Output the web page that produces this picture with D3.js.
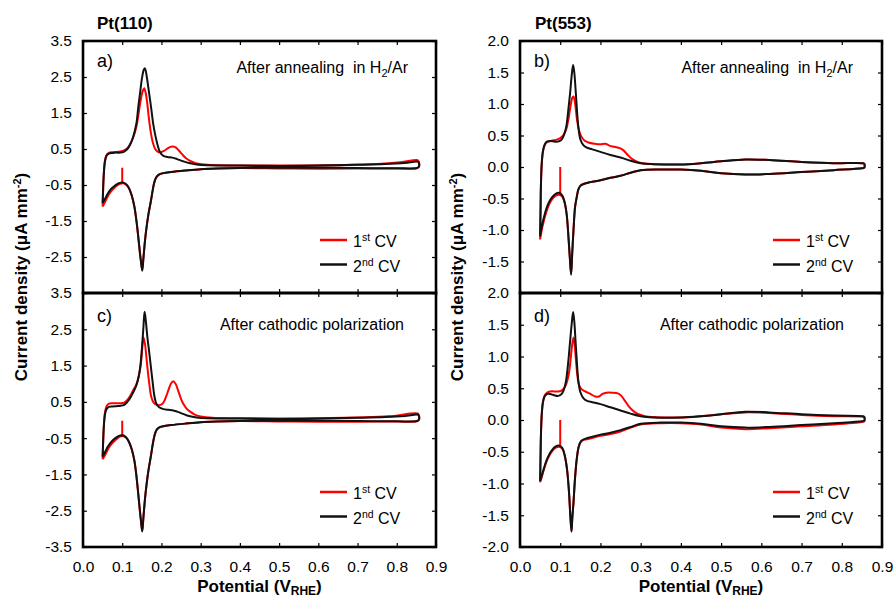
<!DOCTYPE html>
<html>
<head>
<meta charset="utf-8">
<script src="https://cdn.jsdelivr.net/npm/d3@7"></script>
<style>
  body { margin: 0; background: #fff; }
  text { font-family: "Liberation Sans", Arial, sans-serif; fill: #000; }
</style>
</head>
<body>
<div id="chart"></div>
<script>
// tick values
const xTicks = [0.0, 0.1, 0.2, 0.3, 0.4, 0.5, 0.6, 0.7, 0.8, 0.9]
const yTicks110 = [3.5, 2.5, 1.5, 0.5, -0.5, -1.5, -2.5, -3.5]
const yTicks553 = [2.0, 1.5, 1.0, 0.5, 0.0, -0.5, -1.0, -1.5, -2.0]

// ---- Pt(110) after annealing (a) ----
const a1Spike = [[0.100, -0.02], [0.100, -0.44]]
const a1Up = [[0.050,-1.10],[0.051,-0.75],[0.053,-0.20],[0.056,0.18],[0.060,0.33],[0.066,0.39],[0.075,0.41],[0.085,0.42],[0.095,0.43],[0.105,0.46],[0.113,0.52],[0.120,0.63],[0.128,0.82],[0.136,1.12],[0.142,1.50],[0.147,1.85],[0.152,2.10],[0.156,2.19],[0.160,2.05],[0.164,1.75],[0.168,1.35],[0.173,0.95],[0.178,0.68],[0.184,0.50],[0.190,0.43],[0.198,0.41],[0.207,0.45],[0.215,0.51],[0.223,0.56],[0.230,0.57],[0.237,0.54],[0.245,0.45],[0.253,0.35],[0.262,0.25],[0.275,0.16],[0.290,0.10],[0.310,0.07],[0.350,0.05],[0.450,0.04],[0.550,0.04],[0.650,0.05],[0.750,0.08],[0.810,0.13],[0.853,0.19]]
const a1Down = [[0.856,0.15],[0.856,0.00],[0.850,-0.04],[0.800,-0.04],[0.700,-0.045],[0.600,-0.05],[0.500,-0.04],[0.400,-0.03],[0.340,-0.04],[0.300,-0.06],[0.260,-0.10],[0.225,-0.14],[0.205,-0.17],[0.193,-0.22],[0.187,-0.29],[0.182,-0.42],[0.178,-0.63],[0.173,-0.95],[0.167,-1.30],[0.162,-1.68],[0.158,-2.05],[0.154,-2.52],[0.151,-2.86],[0.148,-2.63],[0.145,-2.36],[0.141,-1.95],[0.137,-1.56],[0.131,-1.10],[0.124,-0.79],[0.117,-0.59],[0.110,-0.49],[0.102,-0.45],[0.094,-0.47],[0.086,-0.52],[0.078,-0.60],[0.070,-0.70],[0.063,-0.82],[0.057,-0.95],[0.050,-1.10]]
const a2Up = [[0.050,-1.00],[0.051,-0.70],[0.053,-0.20],[0.056,0.15],[0.060,0.31],[0.066,0.37],[0.075,0.39],[0.085,0.40],[0.095,0.40],[0.105,0.43],[0.113,0.50],[0.120,0.62],[0.128,0.84],[0.136,1.20],[0.141,1.67],[0.146,2.10],[0.150,2.44],[0.155,2.70],[0.158,2.74],[0.162,2.55],[0.166,2.25],[0.169,2.02],[0.174,1.62],[0.179,1.20],[0.184,0.90],[0.190,0.62],[0.196,0.42],[0.205,0.31],[0.215,0.28],[0.228,0.26],[0.240,0.22],[0.255,0.16],[0.270,0.11],[0.290,0.07],[0.320,0.05],[0.400,0.04],[0.500,0.03],[0.600,0.04],[0.700,0.06],[0.770,0.08],[0.820,0.11],[0.853,0.15]]
const a2Down = [[0.856,0.12],[0.856,0.00],[0.850,-0.03],[0.800,-0.035],[0.700,-0.03],[0.600,-0.02],[0.500,-0.02],[0.400,-0.025],[0.340,-0.04],[0.300,-0.06],[0.260,-0.10],[0.225,-0.14],[0.205,-0.17],[0.193,-0.21],[0.187,-0.28],[0.182,-0.42],[0.178,-0.63],[0.173,-0.95],[0.167,-1.30],[0.162,-1.68],[0.158,-2.05],[0.154,-2.55],[0.151,-2.88],[0.148,-2.65],[0.145,-2.38],[0.141,-1.95],[0.137,-1.56],[0.131,-1.10],[0.124,-0.78],[0.117,-0.58],[0.110,-0.48],[0.102,-0.43],[0.094,-0.44],[0.086,-0.48],[0.078,-0.55],[0.070,-0.63],[0.063,-0.74],[0.057,-0.87],[0.050,-1.00]]

// ---- Pt(110) after cathodic polarization (c) ----
const c1Spike = [[0.100, -0.02], [0.100, -0.43]]
const c1Up = [[0.050,-1.08],[0.051,-0.75],[0.053,-0.20],[0.056,0.20],[0.060,0.38],[0.066,0.45],[0.075,0.46],[0.085,0.46],[0.095,0.46],[0.105,0.48],[0.113,0.55],[0.120,0.66],[0.128,0.82],[0.136,0.98],[0.142,1.20],[0.147,1.50],[0.151,1.95],[0.154,2.28],[0.158,2.10],[0.161,1.80],[0.164,1.47],[0.169,1.00],[0.174,0.64],[0.180,0.48],[0.188,0.42],[0.196,0.41],[0.205,0.48],[0.212,0.65],[0.218,0.83],[0.224,1.00],[0.230,1.07],[0.236,1.00],[0.242,0.83],[0.248,0.64],[0.255,0.46],[0.263,0.33],[0.273,0.23],[0.285,0.15],[0.300,0.10],[0.330,0.06],[0.400,0.05],[0.500,0.04],[0.600,0.05],[0.700,0.07],[0.780,0.10],[0.853,0.18]]
const c1Down = [[0.856,0.14],[0.856,0.00],[0.850,-0.04],[0.800,-0.04],[0.700,-0.045],[0.600,-0.05],[0.500,-0.04],[0.400,-0.03],[0.340,-0.04],[0.300,-0.06],[0.260,-0.10],[0.225,-0.14],[0.205,-0.17],[0.193,-0.22],[0.187,-0.29],[0.182,-0.44],[0.178,-0.66],[0.173,-1.00],[0.167,-1.38],[0.162,-1.78],[0.158,-2.18],[0.154,-2.68],[0.151,-3.05],[0.148,-2.80],[0.145,-2.50],[0.141,-2.05],[0.137,-1.62],[0.131,-1.12],[0.124,-0.80],[0.117,-0.60],[0.110,-0.49],[0.102,-0.44],[0.094,-0.46],[0.086,-0.52],[0.078,-0.60],[0.070,-0.70],[0.063,-0.82],[0.057,-0.95],[0.050,-1.08]]
const c2Up = [[0.050,-1.01],[0.051,-0.70],[0.053,-0.20],[0.056,0.15],[0.060,0.30],[0.066,0.36],[0.075,0.37],[0.085,0.38],[0.095,0.39],[0.105,0.42],[0.113,0.50],[0.120,0.60],[0.128,0.76],[0.136,0.95],[0.142,1.20],[0.146,1.47],[0.150,1.95],[0.154,2.55],[0.157,2.98],[0.160,2.75],[0.164,2.30],[0.169,1.85],[0.173,1.47],[0.178,1.00],[0.182,0.66],[0.187,0.45],[0.194,0.35],[0.205,0.30],[0.218,0.28],[0.228,0.27],[0.240,0.23],[0.255,0.17],[0.270,0.11],[0.290,0.07],[0.320,0.05],[0.400,0.04],[0.500,0.03],[0.600,0.04],[0.700,0.06],[0.770,0.08],[0.820,0.11],[0.853,0.15]]
const c2Down = [[0.856,0.12],[0.856,0.00],[0.850,-0.03],[0.800,-0.035],[0.700,-0.03],[0.600,-0.02],[0.500,-0.02],[0.400,-0.025],[0.340,-0.04],[0.300,-0.06],[0.260,-0.10],[0.225,-0.14],[0.205,-0.17],[0.193,-0.21],[0.187,-0.28],[0.182,-0.44],[0.178,-0.66],[0.173,-1.00],[0.167,-1.38],[0.162,-1.78],[0.158,-2.18],[0.154,-2.70],[0.151,-3.07],[0.148,-2.80],[0.145,-2.50],[0.141,-2.05],[0.137,-1.62],[0.131,-1.12],[0.124,-0.80],[0.117,-0.60],[0.110,-0.48],[0.102,-0.42],[0.094,-0.43],[0.086,-0.47],[0.078,-0.54],[0.070,-0.63],[0.063,-0.74],[0.057,-0.87],[0.050,-1.01]]

// ---- Pt(553) after annealing (b) ----
const b1Spike = [[0.100, 0.00], [0.100, -0.44]]
const b1Up = [[0.050,-1.15],[0.051,-0.75],[0.052,-0.30],[0.054,0.05],[0.057,0.24],[0.061,0.34],[0.066,0.39],[0.073,0.41],[0.081,0.42],[0.090,0.43],[0.098,0.45],[0.104,0.48],[0.109,0.52],[0.115,0.60],[0.121,0.78],[0.126,0.98],[0.130,1.10],[0.133,1.12],[0.136,1.05],[0.139,0.90],[0.142,0.74],[0.146,0.60],[0.152,0.49],[0.160,0.42],[0.170,0.39],[0.185,0.37],[0.200,0.36],[0.212,0.37],[0.222,0.34],[0.235,0.32],[0.248,0.30],[0.258,0.26],[0.268,0.19],[0.280,0.12],[0.292,0.08],[0.305,0.06],[0.340,0.045],[0.400,0.04],[0.450,0.06],[0.500,0.09],[0.560,0.12],[0.620,0.11],[0.700,0.08],[0.780,0.06],[0.853,0.06]]
const b1Down = [[0.856,0.05],[0.856,-0.01],[0.850,-0.02],[0.780,-0.05],[0.700,-0.08],[0.620,-0.11],[0.560,-0.12],[0.500,-0.10],[0.450,-0.06],[0.400,-0.04],[0.350,-0.04],[0.300,-0.05],[0.275,-0.09],[0.250,-0.14],[0.225,-0.17],[0.200,-0.21],[0.175,-0.24],[0.158,-0.27],[0.150,-0.30],[0.145,-0.36],[0.141,-0.48],[0.137,-0.63],[0.133,-1.00],[0.130,-1.35],[0.127,-1.70],[0.124,-1.45],[0.121,-1.16],[0.116,-0.75],[0.111,-0.57],[0.105,-0.47],[0.097,-0.44],[0.088,-0.46],[0.080,-0.51],[0.072,-0.60],[0.065,-0.72],[0.059,-0.86],[0.054,-1.00],[0.050,-1.15]]
const b2Up = [[0.050,-1.10],[0.051,-0.70],[0.052,-0.30],[0.054,0.05],[0.057,0.25],[0.061,0.35],[0.066,0.40],[0.073,0.41],[0.081,0.41],[0.090,0.40],[0.098,0.41],[0.104,0.44],[0.109,0.50],[0.115,0.64],[0.121,0.96],[0.125,1.20],[0.128,1.42],[0.132,1.62],[0.135,1.50],[0.138,1.25],[0.141,0.96],[0.145,0.64],[0.150,0.44],[0.157,0.35],[0.165,0.31],[0.180,0.28],[0.200,0.24],[0.225,0.19],[0.250,0.15],[0.275,0.10],[0.300,0.06],[0.330,0.045],[0.400,0.04],[0.450,0.06],[0.500,0.09],[0.560,0.12],[0.620,0.11],[0.700,0.08],[0.780,0.06],[0.853,0.06]]
const b2Down = [[0.856,0.05],[0.856,-0.01],[0.850,-0.02],[0.780,-0.05],[0.700,-0.08],[0.620,-0.11],[0.560,-0.12],[0.500,-0.10],[0.450,-0.06],[0.400,-0.04],[0.350,-0.04],[0.300,-0.05],[0.275,-0.09],[0.250,-0.14],[0.225,-0.17],[0.200,-0.21],[0.175,-0.24],[0.158,-0.27],[0.150,-0.30],[0.145,-0.36],[0.141,-0.48],[0.137,-0.63],[0.133,-1.00],[0.130,-1.35],[0.127,-1.71],[0.124,-1.45],[0.121,-1.16],[0.116,-0.75],[0.111,-0.56],[0.105,-0.45],[0.097,-0.41],[0.088,-0.43],[0.080,-0.48],[0.072,-0.56],[0.065,-0.67],[0.059,-0.81],[0.054,-0.95],[0.050,-1.10]]

// ---- Pt(553) after cathodic polarization (d) ----
const d1Spike = [[0.100, 0.00], [0.100, -0.42]]
const d1Up = [[0.050,-0.98],[0.051,-0.62],[0.052,-0.25],[0.054,0.08],[0.057,0.28],[0.061,0.38],[0.067,0.43],[0.075,0.45],[0.085,0.45],[0.095,0.45],[0.102,0.46],[0.108,0.49],[0.114,0.55],[0.120,0.68],[0.125,0.90],[0.129,1.15],[0.133,1.30],[0.136,1.18],[0.139,0.95],[0.142,0.74],[0.146,0.57],[0.152,0.49],[0.162,0.45],[0.175,0.41],[0.187,0.37],[0.196,0.37],[0.205,0.41],[0.215,0.43],[0.230,0.43],[0.243,0.42],[0.252,0.38],[0.260,0.31],[0.270,0.22],[0.282,0.14],[0.295,0.09],[0.310,0.06],[0.340,0.045],[0.400,0.04],[0.450,0.06],[0.500,0.09],[0.560,0.12],[0.620,0.11],[0.700,0.08],[0.780,0.06],[0.853,0.05]]
const d1Down = [[0.856,0.04],[0.856,-0.02],[0.850,-0.03],[0.780,-0.07],[0.700,-0.10],[0.620,-0.13],[0.560,-0.145],[0.500,-0.12],[0.450,-0.07],[0.400,-0.05],[0.350,-0.05],[0.300,-0.07],[0.275,-0.12],[0.250,-0.18],[0.225,-0.22],[0.200,-0.25],[0.175,-0.29],[0.160,-0.31],[0.152,-0.34],[0.146,-0.42],[0.141,-0.62],[0.137,-0.90],[0.133,-1.30],[0.130,-1.55],[0.128,-1.74],[0.125,-1.50],[0.122,-1.15],[0.117,-0.78],[0.111,-0.56],[0.105,-0.45],[0.097,-0.42],[0.088,-0.44],[0.080,-0.49],[0.072,-0.57],[0.065,-0.67],[0.059,-0.79],[0.054,-0.90],[0.050,-0.98]]
const d2Up = [[0.050,-0.96],[0.051,-0.60],[0.052,-0.25],[0.054,0.08],[0.057,0.28],[0.061,0.37],[0.067,0.41],[0.075,0.41],[0.085,0.39],[0.095,0.38],[0.102,0.40],[0.108,0.46],[0.114,0.60],[0.120,0.92],[0.124,1.20],[0.128,1.48],[0.132,1.70],[0.135,1.55],[0.138,1.25],[0.141,0.95],[0.145,0.62],[0.150,0.44],[0.157,0.35],[0.167,0.30],[0.180,0.28],[0.200,0.25],[0.225,0.20],[0.250,0.15],[0.275,0.10],[0.300,0.06],[0.330,0.04],[0.400,0.04],[0.450,0.06],[0.500,0.09],[0.560,0.13],[0.620,0.12],[0.700,0.09],[0.780,0.07],[0.853,0.06]]
const d2Down = [[0.856,0.05],[0.856,-0.01],[0.850,-0.02],[0.780,-0.05],[0.700,-0.08],[0.620,-0.11],[0.560,-0.12],[0.500,-0.10],[0.450,-0.06],[0.400,-0.04],[0.350,-0.04],[0.300,-0.06],[0.275,-0.11],[0.250,-0.16],[0.225,-0.20],[0.200,-0.23],[0.175,-0.27],[0.160,-0.30],[0.152,-0.33],[0.146,-0.42],[0.141,-0.62],[0.137,-0.90],[0.133,-1.30],[0.130,-1.55],[0.128,-1.76],[0.125,-1.50],[0.122,-1.15],[0.117,-0.78],[0.111,-0.55],[0.105,-0.44],[0.097,-0.40],[0.088,-0.42],[0.080,-0.47],[0.072,-0.55],[0.065,-0.65],[0.059,-0.77],[0.054,-0.88],[0.050,-0.96]]

let width = 893
let height = 599

let svg = d3.select("#chart")
  .append("svg")
  .attr("width", width)
  .attr("height", height)

let fmt = d => d.toFixed(1)
let cvLine = d3.line().curve(d3.curveCatmullRom.alpha(0.5))
let spikeLine = d3.line()

// draws one framed panel with its two CVs
function drawPanel(p) {
  let x = d3.scaleLinear().domain([0, 0.9]).range([p.x0, p.x1])
  let y = d3.scaleLinear().domain([p.yTicks[p.yTicks.length - 1], p.yTicks[0]]).range([p.y1, p.y0])
  cvLine.x(d => x(d[0])).y(d => y(d[1]))
  spikeLine.x(d => x(d[0])).y(d => y(d[1]))

  let noDomain = g => g.select(".domain").remove()
  let tickStyle = g => {
    g.selectAll(".tick line").attr("stroke", "#000").attr("stroke-width", 1.2)
    g.selectAll(".tick text").style("font-size", "15.5px").attr("fill", "#000")
      .style("font-family", '"Liberation Sans", Arial, sans-serif')
  }

  // x axes
  svg.append("g").attr("transform", `translate(0,${p.y1})`)
    .call(d3.axisBottom(x).tickValues(xTicks).tickSizeInner(-4).tickSizeOuter(0)
      .tickPadding(14).tickFormat(p.xLabels ? fmt : ""))
    .call(noDomain).call(tickStyle)
  svg.append("g").attr("transform", `translate(0,${p.y0})`)
    .call(d3.axisTop(x).tickValues(xTicks).tickSizeInner(-4).tickSizeOuter(0).tickFormat(""))
    .call(noDomain).call(tickStyle)

  // y axes
  let shown = p.yTicks.slice(0, p.lastLabel ? p.yTicks.length : p.yTicks.length - 1)
  svg.append("g").attr("transform", `translate(${p.x0},0)`)
    .call(d3.axisLeft(y).tickValues(p.yTicks).tickSizeInner(-4).tickSizeOuter(0)
      .tickPadding(11).tickFormat(d => shown.includes(d) ? fmt(d) : ""))
    .call(noDomain).call(tickStyle)
  svg.append("g").attr("transform", `translate(${p.x1},0)`)
    .call(d3.axisRight(y).tickValues(p.yTicks).tickSizeInner(-4).tickSizeOuter(0).tickFormat(""))
    .call(noDomain).call(tickStyle)

  // curves: 1st CV underneath, 2nd CV on top
  svg.append("path").attr("d", spikeLine(p.redSpike))
    .attr("fill", "none").attr("stroke", "#ff0000").attr("stroke-width", 2)
  svg.append("path").attr("d", cvLine(p.redUp.concat(p.redDown)))
    .attr("fill", "none").attr("stroke", "#ff0000").attr("stroke-width", 2)
  svg.append("path").attr("d", cvLine(p.blackUp.concat(p.blackDown)))
    .attr("fill", "none").attr("stroke", "#111").attr("stroke-width", 2)

  // frame
  svg.append("rect")
    .attr("x", p.x0).attr("y", p.y0)
    .attr("width", p.x1 - p.x0).attr("height", p.y1 - p.y0)
    .attr("fill", "none").attr("stroke", "#000").attr("stroke-width", 2.6)

  // panel letter
  svg.append("text").attr("x", p.x0 + 14).attr("y", p.y0 + p.letterDy)
    .style("font-size", "18px").text(p.letter)

  // condition note
  let note = svg.append("text").attr("x", p.noteX).attr("y", p.y0 + p.noteDy)
    .attr("text-anchor", "end").style("font-size", "16px").style("white-space", "pre")
  if (p.h2) {
    note.append("tspan").text("After annealing  in H")
    note.append("tspan").attr("dy", 4).style("font-size", "11px").text("2")
    note.append("tspan").attr("dy", -4).text("/Ar")
  } else {
    note.text("After cathodic polarization")
  }

  // legend
  let names = [["1", "st", "#ff0000"], ["2", "nd", "#111"]]
  names.forEach((n, i) => {
    let ly = p.y0 + 199 + i * 24.5
    svg.append("line").attr("x1", p.legX).attr("x2", p.legX + 27)
      .attr("y1", ly).attr("y2", ly).attr("stroke", n[2]).attr("stroke-width", 2.5)
    let t = svg.append("text").attr("x", p.legX + 33).attr("y", ly + 7).style("font-size", "16px")
    t.append("tspan").text(n[0])
    t.append("tspan").attr("dy", -6).style("font-size", "10.5px").text(n[1])
    t.append("tspan").attr("dy", 6).text(" CV")
  })
}

let cols = [
  { x0: 83, x1: 436, yTicks: yTicks110, legX: 320, title: "Pt(110)", titleX: 97, labelX: 27,
    top: { letter: "a)", red: [a1Spike, a1Up, a1Down], black: [a2Up, a2Down] },
    bottom: { letter: "c)", red: [c1Spike, c1Up, c1Down], black: [c2Up, c2Down] },
    noteTop: 408, noteBottom: 404 },
  { x0: 520, x1: 882, yTicks: yTicks553, legX: 773, title: "Pt(553)", titleX: 535, labelX: 463,
    top: { letter: "b)", red: [b1Spike, b1Up, b1Down], black: [b2Up, b2Down] },
    bottom: { letter: "d)", red: [d1Spike, d1Up, d1Down], black: [d2Up, d2Down] },
    noteTop: 853, noteBottom: 844 }
]

cols.forEach(c => {
  drawPanel({ x0: c.x0, x1: c.x1, y0: 41, y1: 293, yTicks: c.yTicks, xLabels: false, lastLabel: false,
    letter: c.top.letter, letterDy: 26, h2: true, noteX: c.noteTop, noteDy: 32, legX: c.legX,
    redSpike: c.top.red[0], redUp: c.top.red[1], redDown: c.top.red[2],
    blackUp: c.top.black[0], blackDown: c.top.black[1] })
  drawPanel({ x0: c.x0, x1: c.x1, y0: 293, y1: 547, yTicks: c.yTicks, xLabels: true, lastLabel: true,
    letter: c.bottom.letter, letterDy: 29, h2: false, noteX: c.noteBottom, noteDy: 37, legX: c.legX,
    redSpike: c.bottom.red[0], redUp: c.bottom.red[1], redDown: c.bottom.red[2],
    blackUp: c.bottom.black[0], blackDown: c.bottom.black[1] })

  // column title
  svg.append("text").attr("x", c.titleX).attr("y", 29)
    .style("font-size", "17px").style("font-weight", "bold").text(c.title)

  // x axis title
  let xt = svg.append("text").attr("x", (c.x0 + c.x1) / 2).attr("y", 592)
    .attr("text-anchor", "middle").style("font-size", "17px").style("font-weight", "bold")
  xt.append("tspan").text("Potential (V")
  xt.append("tspan").attr("dy", 3).style("font-size", "12px").text("RHE")
  xt.append("tspan").attr("dy", -3).text(")")

  // y axis title
  let yt = svg.append("text")
    .attr("transform", `translate(${c.labelX},277) rotate(-90)`)
    .attr("text-anchor", "middle").style("font-size", "17px").style("font-weight", "bold")
  yt.append("tspan").text("Current density (μA mm")
  yt.append("tspan").attr("dy", -6).style("font-size", "11px").text("-2")
  yt.append("tspan").attr("dy", 6).text(")")
})
</script>
</body>
</html>
